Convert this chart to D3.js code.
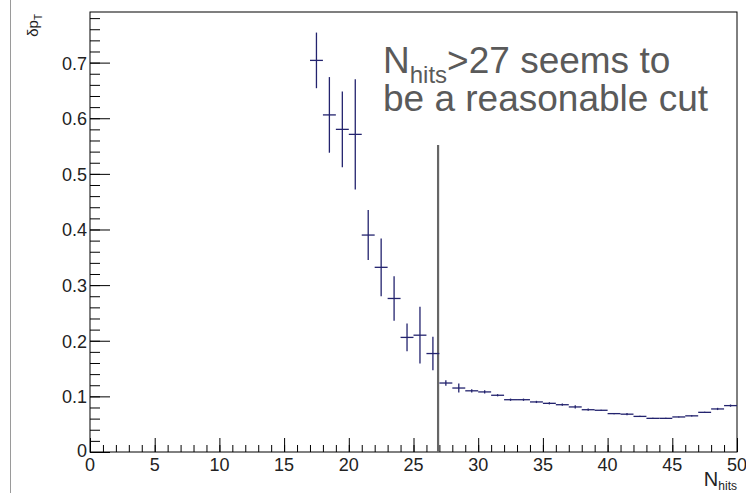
<!DOCTYPE html>
<html>
<head>
<meta charset="utf-8">
<script src="https://cdn.jsdelivr.net/npm/d3@7"></script>
<style>
  body { margin: 0; background: #fff; }
  text { font-family: "Liberation Sans", Arial, sans-serif; }
</style>
</head>
<body>
<div id="chart"></div>
<script>
// bin centers (N hits) and the resolution values
var binCenters = [17.5, 18.5, 19.5, 20.5, 21.5, 22.5, 23.5, 24.5, 25.5, 26.5,
  27.5, 28.5, 29.5, 30.5, 31.5, 32.5, 33.5, 34.5, 35.5, 36.5, 37.5, 38.5,
  39.5, 40.5, 41.5, 42.5, 43.5, 44.5, 45.5, 46.5, 47.5, 48.5, 49.5];
var dpT = [0.704, 0.606, 0.580, 0.571, 0.390, 0.332, 0.276, 0.206, 0.210, 0.177,
  0.124, 0.115, 0.110, 0.108, 0.102, 0.094, 0.094, 0.090, 0.0875, 0.085, 0.081, 0.076,
  0.075, 0.069, 0.068, 0.064, 0.0605, 0.0605, 0.063, 0.065, 0.0713, 0.0774, 0.0834];
var dpTErr = [0.050, 0.068, 0.068, 0.099, 0.045, 0.052, 0.040, 0.025, 0.051, 0.030,
  0.005, 0.008, 0.003, 0.003, 0.002, 0.002, 0.002, 0.002, 0.002, 0.002, 0.003, 0.002,
  0.001, 0.001, 0.002, 0.001, 0.001, 0.001, 0.001, 0.001, 0.001, 0.002, 0.002];
var binHalfWidth = 0.5;

var xTicks = [0, 5, 10, 15, 20, 25, 30, 35, 40, 45, 50];
var yTicks = [0, 0.1, 0.2, 0.3, 0.4, 0.5, 0.6, 0.7];
var cutValue = 26.9;
var cutTop = 0.552;

var width = 746, height = 493;
var margin = {top: 12, right: 9, bottom: 41, left: 90};

var svg = d3.select("#chart")
  .append("svg")
  .attr("width", width)
  .attr("height", height);

// gray border on the left of the canvas
svg.append("line")
  .attr("x1", 10.5).attr("x2", 10.5)
  .attr("y1", 0).attr("y2", height)
  .attr("stroke", "#9a9a9a")
  .attr("stroke-width", 1);

var x = d3.scaleLinear()
  .domain([0, 50])
  .range([margin.left, width - margin.right]);

var y = d3.scaleLinear()
  .domain([0, 0.791])
  .range([height - margin.bottom, margin.top]);

// frame
svg.append("rect")
  .attr("x", x(0))
  .attr("y", y(0.791))
  .attr("width", x(50) - x(0))
  .attr("height", y(0) - y(0.791))
  .attr("fill", "none")
  .attr("stroke", "#000")
  .attr("stroke-width", 1);

// x axis: major ticks + minor ticks going up inside the frame
var xAxis = svg.append("g")
  .attr("transform", "translate(0," + y(0) + ")")
  .call(d3.axisTop(x).tickValues(d3.range(0, 51, 1)).tickSize(7).tickFormat(""));
xAxis.select(".domain").remove();
xAxis.selectAll(".tick line").attr("stroke", "#000");

var xMajor = svg.append("g")
  .attr("transform", "translate(0," + y(0) + ")")
  .call(d3.axisTop(x).tickValues(xTicks).tickSize(14).tickFormat(""));
xMajor.select(".domain").remove();

svg.selectAll(".xlab")
  .data(xTicks)
  .enter().append("text")
  .attr("class", "xlab")
  .attr("x", function(d) { return x(d); })
  .attr("y", y(0) + 19)
  .attr("text-anchor", "middle")
  .attr("font-size", "18px")
  .attr("fill", "#222")
  .text(function(d) { return d; });

// y axis: ticks going right
var yMinor = svg.append("g")
  .attr("transform", "translate(" + x(0) + ",0)")
  .call(d3.axisRight(y).tickValues(d3.range(0, 0.785, 0.02)).tickSize(10).tickFormat(""));
yMinor.select(".domain").remove();

var yMajor = svg.append("g")
  .attr("transform", "translate(" + x(0) + ",0)")
  .call(d3.axisRight(y).tickValues(yTicks).tickSize(20).tickFormat(""));
yMajor.select(".domain").remove();

svg.selectAll(".ylab")
  .data(yTicks)
  .enter().append("text")
  .attr("class", "ylab")
  .attr("x", x(0) - 3)
  .attr("y", function(d) { return d === 0 ? y(d) + 5 : y(d) + 7; })
  .attr("text-anchor", "end")
  .attr("font-size", "18px")
  .attr("fill", "#222")
  .text(function(d) { return d === 0 ? "0" : d3.format(".1f")(d); });

// axis titles
var yTitle = svg.append("text")
  .attr("transform", "translate(38," + (margin.top + 2) + ") rotate(-90)")
  .attr("text-anchor", "end")
  .attr("font-size", "15px")
  .attr("fill", "#222");
yTitle.append("tspan").text("δp");
yTitle.append("tspan").attr("font-size", "10px").attr("dy", 4).text("T");

var xTitle = svg.append("text")
  .attr("x", x(50))
  .attr("y", 486)
  .attr("text-anchor", "end")
  .attr("font-size", "20px")
  .attr("fill", "#222");
xTitle.append("tspan").text("N");
xTitle.append("tspan").attr("font-size", "12px").attr("dy", 4).text("hits");

// the cut line
svg.append("line")
  .attr("x1", x(cutValue)).attr("x2", x(cutValue))
  .attr("y1", y(cutTop)).attr("y2", y(0))
  .attr("stroke", "#666")
  .attr("stroke-width", 2.2);

// data points with error bars
var pts = binCenters.map(function(c, i) {
  return {x: c, v: dpT[i], e: dpTErr[i]};
});

var navy = "#23236e";
var g = svg.append("g");
g.selectAll(".herr")
  .data(pts)
  .enter().append("line")
  .attr("x1", function(d) { return x(d.x - binHalfWidth); })
  .attr("x2", function(d) { return x(d.x + binHalfWidth); })
  .attr("y1", function(d) { return y(d.v); })
  .attr("y2", function(d) { return y(d.v); })
  .attr("stroke", navy)
  .attr("stroke-width", 1.3);

g.selectAll(".verr")
  .data(pts)
  .enter().append("line")
  .attr("x1", function(d) { return x(d.x); })
  .attr("x2", function(d) { return x(d.x); })
  .attr("y1", function(d) { return y(d.v + d.e); })
  .attr("y2", function(d) { return y(d.v - d.e); })
  .attr("stroke", navy)
  .attr("stroke-width", 1.3);

// annotation
var note = svg.append("g").attr("fill", "#5a5a5a").attr("font-size", "37px");
var line1 = note.append("text").attr("x", 383).attr("y", 73);
line1.append("tspan").text("N");
line1.append("tspan").attr("font-size", "24px").attr("dy", 10).text("hits");
line1.append("tspan").attr("dy", -10).text(">27 seems to");
note.append("text").attr("x", 383).attr("y", 111).text("be a reasonable cut");
</script>
</body>
</html>
